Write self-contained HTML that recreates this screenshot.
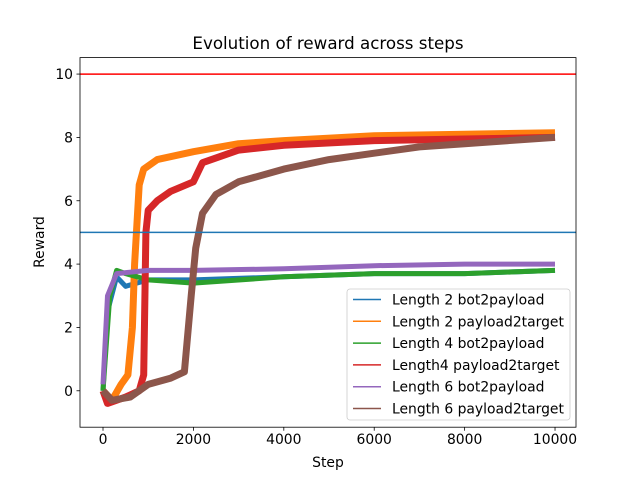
<!DOCTYPE html>
<html><head><meta charset="utf-8"><style>
body{margin:0;background:#fff}
svg{display:block;font-family:"DejaVu Sans","Liberation Sans",sans-serif}
</style></head><body>
<svg id="chart" width="640" height="480" xmlns="http://www.w3.org/2000/svg">
<rect width="640" height="480" fill="#fff"/>
<text x="328" y="49" font-size="16.7" text-anchor="middle">Evolution of reward across steps</text>
<g id="plot"></g>
<g id="axes"></g>
<text x="328" y="467" font-size="13.9" text-anchor="middle">Step</text>
<text x="44" y="242" font-size="13.9" text-anchor="middle" transform="rotate(-90 44 242)">Reward</text>
<g id="legend"></g>
</svg>
<script>
const xTicks=[0,2000,4000,6000,8000,10000];
const yTicks=[0,2,4,6,8,10];
const seriesNames=["Length 2 bot2payload","Length 2 payload2target","Length 4 bot2payload","Length4 payload2target","Length 6 bot2payload","Length 6 payload2target"];
const seriesColors=["#1f77b4","#ff7f0e","#2ca02c","#d62728","#9467bd","#8c564b"];
const s1Steps=[0,100,300,500,1000,2000,4000,6000,8000,10000];
const s1Vals=[0,2.5,3.6,3.3,3.5,3.5,3.6,3.7,3.7,3.8];
const s2Steps=[0,200,400,550,650,700,800,900,1200,2000,3000,4000,6000,8000,10000];
const s2Vals=[0,-0.3,0.2,0.5,2,4,6.5,7.0,7.3,7.55,7.8,7.9,8.05,8.1,8.15];
const s3Steps=[0,150,300,500,1000,2000,4000,6000,8000,10000];
const s3Vals=[0,3,3.8,3.7,3.5,3.4,3.6,3.7,3.7,3.8];
const s4Steps=[0,100,500,800,900,950,1000,1200,1500,2000,2200,3000,4000,6000,8000,10000];
const s4Vals=[0,-0.4,-0.2,0,0.5,5,5.7,6.0,6.3,6.6,7.2,7.6,7.75,7.9,7.95,8.0];
const s5Steps=[0,100,300,1000,2000,4000,6000,8000,10000];
const s5Vals=[0.2,3,3.7,3.8,3.8,3.85,3.95,4.0,4.0];
const s6Steps=[0,200,600,1000,1500,1800,1950,2050,2200,2500,3000,4000,5000,6000,7000,8000,10000];
const s6Vals=[0,-0.3,-0.2,0.2,0.4,0.6,3,4.5,5.6,6.2,6.6,7.0,7.3,7.5,7.7,7.8,8.0];
const hLineVals=[10,5];
const hLineColors=["#ff0000","#1f77b4"];

const L=80,R=576,T=57.6,B=427.2;
const xMin=-509,xMax=10464,yMin=-1.15,yMax=10.52;
const X=v=>L+(v-xMin)/(xMax-xMin)*(R-L);
const Y=v=>B-(v-yMin)/(yMax-yMin)*(B-T);
const NS="http://www.w3.org/2000/svg";
function mk(tag,attrs,parent){const e=document.createElementNS(NS,tag);for(const k in attrs)e.setAttribute(k,attrs[k]);parent.appendChild(e);return e;}
const plot=document.getElementById('plot'),axes=document.getElementById('axes'),leg=document.getElementById('legend');
const allSteps=[s1Steps,s2Steps,s3Steps,s4Steps,s5Steps,s6Steps];
const allVals=[s1Vals,s2Vals,s3Vals,s4Vals,s5Vals,s6Vals];
const seriesKeys=["l2-bot2payload","l2-payload2target","l4-bot2payload","l4-payload2target","l6-bot2payload","l6-payload2target"];
for(let i=0;i<6;i++){
  const d=allSteps[i].map((s,j)=>(j?'L':'M')+X(s).toFixed(1)+','+Y(allVals[i][j]).toFixed(1)).join(' ');
  const p=mk('path',{d:d,fill:'none',stroke:seriesColors[i],'stroke-width':i===1||i===3||i===5?7:5,'stroke-linejoin':'round'},plot);
  
  
}
for(let i=0;i<hLineVals.length;i++){
  const l=mk('line',{x1:L,x2:R,y1:Y(hLineVals[i]),y2:Y(hLineVals[i]),stroke:hLineColors[i],'stroke-width':1.5},plot);
  
  
}
const frame=mk('rect',{x:L,y:T,width:R-L,height:B-T,fill:'none',stroke:'#000','stroke-width':0.8},axes);


xTicks.forEach(v=>{
  mk('line',{x1:X(v),x2:X(v),y1:B,y2:B+3.5,stroke:'#000','stroke-width':0.8},axes);
  const t=mk('text',{x:X(v),y:B+17,'font-size':13.9,'text-anchor':'middle'},axes);t.textContent=v;
  
  
});
yTicks.forEach(v=>{
  mk('line',{x1:L-3.5,x2:L,y1:Y(v),y2:Y(v),stroke:'#000','stroke-width':0.8},axes);
  const t=mk('text',{x:L-7,y:Y(v)+5,'font-size':13.9,'text-anchor':'end'},axes);t.textContent=v;
  
  
});
mk('rect',{x:347,y:289,width:223,height:131,rx:3,fill:'#fff','fill-opacity':0.8,stroke:'#ccc','stroke-width':0.8},leg);
for(let i=0;i<6;i++){
  const y=299.5+i*21.8;
  mk('line',{x1:353,x2:381,y1:y,y2:y,stroke:seriesColors[i],'stroke-width':1.5},leg);
  const t=mk('text',{x:392,y:y+5,'font-size':13.9},leg);t.textContent=seriesNames[i];
  
  
}
</script>
</body></html>
